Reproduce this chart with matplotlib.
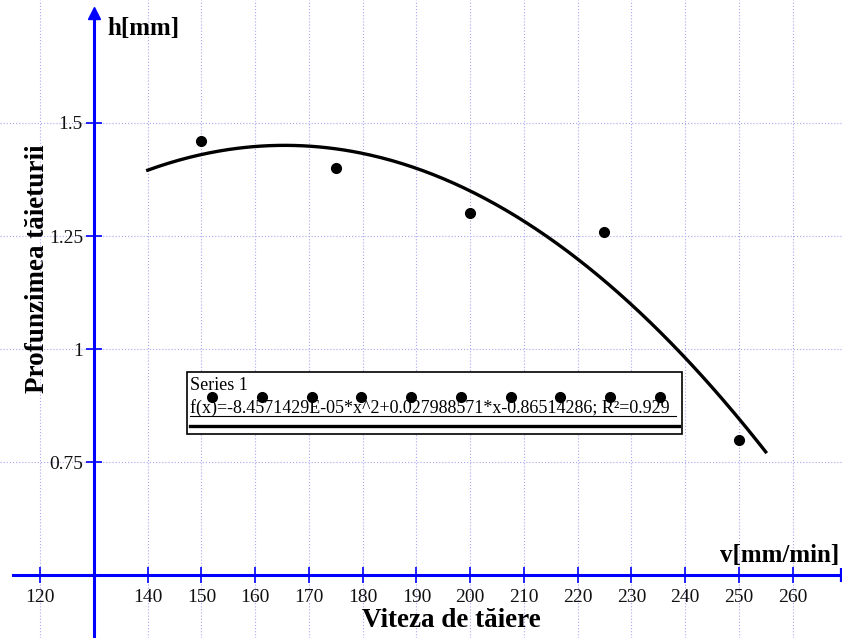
import numpy as np
import matplotlib
matplotlib.use("Agg")
import matplotlib.pyplot as plt
from matplotlib.patches import Rectangle

# Measured cutting depth vs. cutting speed
speed = [150, 175, 200, 225, 250]
depth = [1.46, 1.40, 1.30, 1.26, 0.80]

# Quadratic trend line coefficients (a*x^2 + b*x + c)
coef_a = -8.4571429e-05
coef_b = 0.027988571
coef_c = -0.86514286
r_squared = 0.929
fit_range = (140, 255)

x_ticks = [120, 140, 150, 160, 170, 180, 190, 200, 210, 220, 230, 240, 250, 260]
y_ticks = [0.75, 1.0, 1.25, 1.5]
y_tick_labels = ["0.75", "1", "1.25", "1.5"]

plt.rcParams["font.family"] = ["Liberation Serif", "DejaVu Serif"]

fig = plt.figure(figsize=(8.42, 6.38), dpi=100)
ax = fig.add_axes([0, 0, 1, 1])
ax.set_xlim(112.5, 269.2)
ax.set_ylim(0.361, 1.772)

axis_blue = "#0000ff"
grid_col = "#a8a8f0"

# spines crossing inside the plot
for s in ("top", "right"):
    ax.spines[s].set_visible(False)
ax.spines["left"].set_position(("data", 130))
ax.spines["bottom"].set_position(("data", 0.5))
ax.spines["left"].set_color(axis_blue)
ax.spines["bottom"].set_color(axis_blue)
ax.spines["left"].set_linewidth(2.2)
ax.spines["bottom"].set_linewidth(2.2)
ax.spines["left"].set_bounds(0.361, 1.743)
ax.spines["bottom"].set_bounds(114.9, 269.2)
ax.set_zorder(1)

# arrow head on the vertical axis, end bar on the horizontal axis
ax.plot([130], [1.743], marker="^", color=axis_blue, markersize=9,
        clip_on=False, zorder=5)
ax.plot([269.0], [0.5], marker="|", color=axis_blue, markersize=10,
        markeredgewidth=1.6, clip_on=False, zorder=5)

ax.set_xticks(x_ticks)
ax.set_xticklabels([str(v) for v in x_ticks])
ax.set_yticks(y_ticks)
ax.set_yticklabels(y_tick_labels)
ax.tick_params(axis="both", direction="inout", length=12, width=1.2,
               color=axis_blue, labelsize=14, labelcolor="#111111")
ax.tick_params(axis="x", pad=4)
ax.tick_params(axis="y", pad=2)

ax.grid(True, color=grid_col, linestyle=(0, (1, 1.8)), linewidth=0.8)
ax.set_axisbelow(True)

# fitted curve
xf = np.linspace(fit_range[0], fit_range[1], 300)
yf = coef_a * xf**2 + coef_b * xf + coef_c
ax.plot(xf, yf, color="black", linewidth=2.4, zorder=3)

# measured points
ax.plot(speed, depth, "o", color="black", markersize=7, zorder=4)

# axis captions
ax.text(0.127, 0.955, "h[mm]", transform=ax.transAxes, fontsize=18,
        fontweight="bold", ha="left", va="center")
ax.text(0.997, 0.130, "v[mm/min]", transform=ax.transAxes, fontsize=18,
        fontweight="bold", ha="right", va="center")
ax.text(0.536, 0.028, "Viteza de tăiere", transform=ax.transAxes,
        fontsize=19.5, fontweight="bold", ha="center", va="center")
ax.text(0.045, 0.578, "Profunzimea tăieturii", transform=ax.transAxes,
        fontsize=19.5, fontweight="bold", ha="center", va="center",
        rotation=90)

# legend box
bx0, by0, bw, bh = 187 / 842, 1 - 434 / 638, 495 / 842, 62 / 638
ax.add_patch(Rectangle((bx0, by0), bw, bh, transform=ax.transAxes,
                       facecolor="white", edgecolor="black", linewidth=1.2,
                       zorder=6))
ax.text(bx0 + 3 / 842, 1 - 385 / 638, "Series 1", transform=ax.transAxes,
        fontsize=13, ha="left", va="center", zorder=7)
formula = "f(x)=-8.4571429E-05*x^2+0.027988571*x-0.86514286; R²=0.929"
ax.text(bx0 + 3 / 842, 1 - 408 / 638, formula, transform=ax.transAxes,
        fontsize=13.0, ha="left", va="center", zorder=7)
ax.plot([bx0 + 3 / 842, bx0 + bw - 6 / 842], [1 - 416 / 638] * 2,
        transform=ax.transAxes, color="black", linewidth=0.8, zorder=7)
ax.plot([bx0 + 3 / 842, bx0 + bw - 3 / 842], [1 - 426 / 638] * 2,
        transform=ax.transAxes, color="black", linewidth=2.4, zorder=7)
dot_x = np.linspace(212 / 842, 660 / 842, 10)
ax.plot(dot_x, [1 - 397 / 638] * 10, "o", color="black", markersize=7,
        transform=ax.transAxes, zorder=8)

fig.savefig("out.png", dpi=100)
